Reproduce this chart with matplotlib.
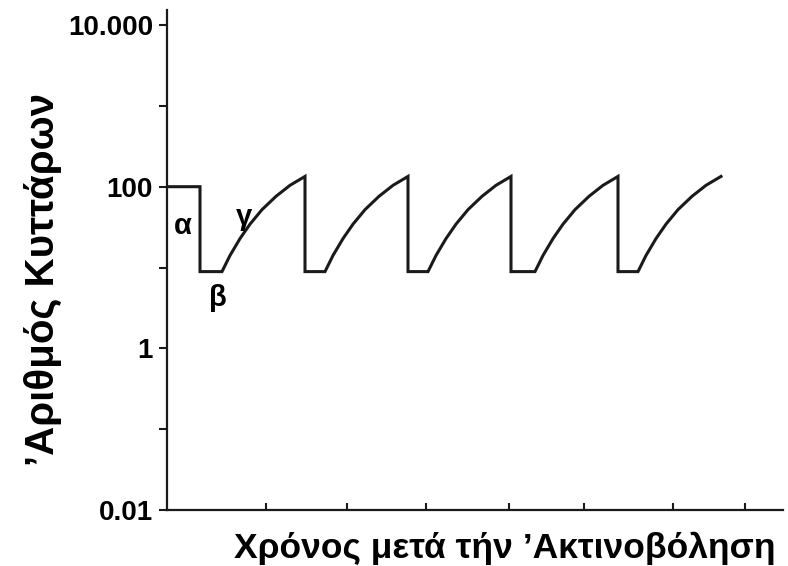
import matplotlib
matplotlib.use("Agg")
import matplotlib.pyplot as plt

plt.rcParams['font.family'] = ['Liberation Sans', 'DejaVu Sans']
plt.rcParams['font.weight'] = 'bold'

# initial population level before irradiation, and the surviving level after each dose
start_level = 100
survivor_level = 8.9

# time of the first dose, and start of each regrowth phase (time units)
first_drop = 3.3
rise_starts = [5.5, 15.8, 26.1, 36.8, 47.1]

# shape of one regrowth phase: time offset and cell count
rise_dt = [0.0, 0.8, 1.8, 2.8, 4.0, 5.4, 6.8, 8.3]
rise_val = [8.9, 14.1, 22.8, 34.4, 52, 76, 104, 134]

# axis ticks
x_ticks = [9.9, 18.0, 25.9, 34.2, 41.7, 50.6, 57.8]
y_ticks = [0.01, 0.1, 1, 10, 100, 1000, 10000]
y_labels = ['0.01', '', '1', '', '100', '', '10.000']

# phase labels
phase_text = ['α', 'β', 'γ']
phase_x = [1.6, 5.1, 7.7]
phase_y = [33, 4.2, 42]


def build_trace():
    xs = [0, first_drop, first_drop]
    ys = [start_level, start_level, survivor_level]
    for i, s in enumerate(rise_starts):
        for dt, v in zip(rise_dt, rise_val):
            xs.append(s + dt)
            ys.append(v)
        if i < len(rise_starts) - 1:
            # next dose: vertical drop back to the survivor level
            xs.append(s + rise_dt[-1])
            ys.append(survivor_level)
    return xs, ys


def main():
    fig = plt.figure(figsize=(7.88, 5.66), dpi=100)
    ax = fig.add_axes([167 / 788, 1 - 510 / 566, (783 - 167) / 788, 500 / 566])

    xs, ys = build_trace()
    ax.plot(xs, ys, color='#1a1a1a', lw=2.2, solid_joinstyle='miter')

    ax.set_yscale('log')
    ax.set_ylim(0.01, 15350)
    ax.set_xlim(0, 61.6)

    ax.set_yticks(y_ticks)
    ax.set_yticklabels(y_labels)
    ax.minorticks_off()
    ax.set_xticks(x_ticks)
    ax.set_xticklabels([])

    ax.tick_params(axis='y', direction='out', length=6, width=1.5,
                   labelsize=20, pad=4, color='#1a1a1a')
    ax.tick_params(axis='x', direction='in', length=5, width=1.5,
                   color='#1a1a1a')

    for side in ['top', 'right']:
        ax.spines[side].set_visible(False)
    for side in ['left', 'bottom']:
        ax.spines[side].set_linewidth(1.6)
        ax.spines[side].set_color('#1a1a1a')

    for t, x, y in zip(phase_text, phase_x, phase_y):
        ax.text(x, y, t, fontsize=21, fontweight='bold', ha='center', va='center')

    fig.text(43 / 788, 1 - 280 / 566, '’Αριθμός Κυττάρων', rotation=90,
             fontsize=29, fontweight='bold', ha='center', va='center')
    fig.text(505 / 788, 1 - 548 / 566, 'Χρόνος μετά τήν ’Ακτινοβόληση',
             fontsize=25.5, fontweight='bold', ha='center', va='center')

    fig.savefig('out.png', dpi=100)


if __name__ == "__main__":
    main()
